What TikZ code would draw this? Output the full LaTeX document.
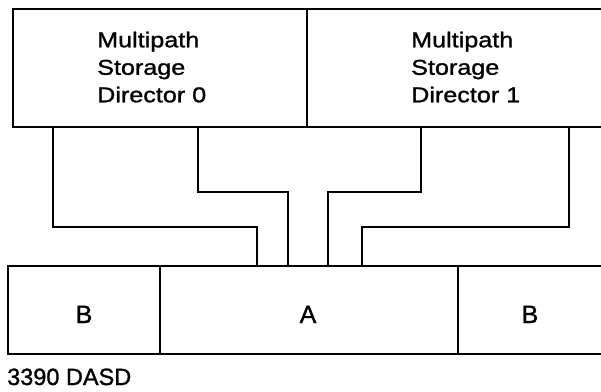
\documentclass[tikz,border=0pt]{standalone}
\usepackage{fontspec}
\setmainfont[FakeBold=1.2]{Liberation Sans}
\newfontfamily\topfont[FakeStretch=1.17,FakeBold=1.2]{Liberation Sans}
\begin{document}
\begin{tikzpicture}[x=1pt,y=-1pt,
  boxstyle/.style={draw=black,line width=1.9pt,rectangle,inner sep=0pt},
  conn/.style={draw=black,line width=1.3pt},
  toptext/.style={anchor=north west,inner sep=0pt,align=left,text=black,
    font=\fontsize{21.5}{27.5}\selectfont\topfont},
  letter/.style={anchor=base,inner sep=0pt,text=black,font=\fontsize{25}{28}\selectfont},
  caption/.style={anchor=base west,inner sep=0pt,text=black,font=\fontsize{23.5}{27}\selectfont}]
\clip (0,0) rectangle (601,391);
\fill[white] (0,0) rectangle (601,391);
% directors
\node[boxstyle,minimum width=294.3pt,minimum height=118pt] (d0) at (159.85,68) {};
\node[boxstyle,minimum width=297pt,minimum height=118pt] (d1) at (455.5,68) {};
\node[toptext] (t0) at (97,31.5) {Multipath\\Storage\\Director 0};
\node[toptext] (t1) at (411,31.5) {Multipath\\Storage\\Director 1};
% DASD
\node[boxstyle,minimum width=152pt,minimum height=88pt] (bB1) at (84,310) {};
\node[boxstyle,minimum width=298pt,minimum height=88pt] (bA) at (309,310) {};
\node[boxstyle,minimum width=147pt,minimum height=88pt] (bB2) at (531.5,310) {};
\node[letter] (lB1) at (84,323) {B};
\node[letter] (lA) at (308,323) {A};
\node[letter] (lB2) at (530,323) {B};
\node[caption] (cap) at (7,385) {3390 DASD};
% connectors
\draw[conn] (53,0 |- d0.south) |- (257,227) -- (257,0 |- bA.north);
\draw[conn] (198,0 |- d0.south) |- (288,192) -- (288,0 |- bA.north);
\draw[conn] (421,0 |- d1.south) |- (328,192) -- (328,0 |- bA.north);
\draw[conn] (569,0 |- d1.south) |- (362,227) -- (362,0 |- bA.north);
\end{tikzpicture}
\end{document}
